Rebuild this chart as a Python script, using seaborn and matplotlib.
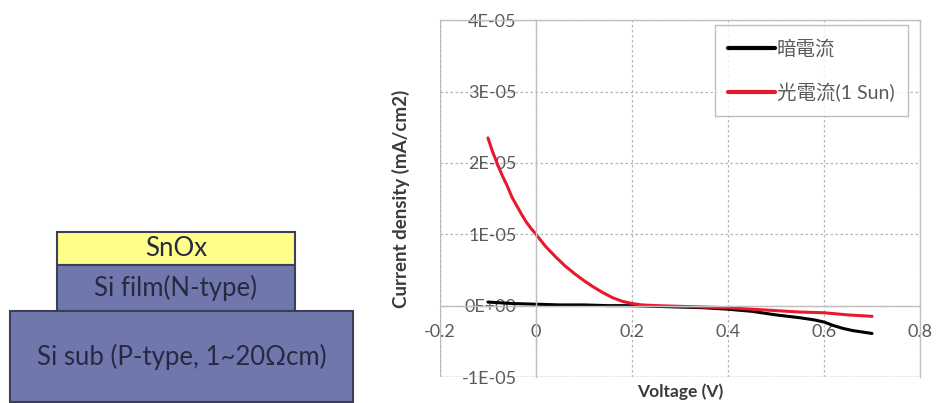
import seaborn as sns
import matplotlib.pyplot as plt
import matplotlib.patches as mpatches
import pandas as pd

# --- DATA ---
series_names = ['暗電流', '光電流(1 Sun)']

# dark current
dark_v = [-0.10, -0.05, 0.00, 0.05, 0.10, 0.15, 0.20, 0.25, 0.30, 0.35, 0.40,
          0.45, 0.50, 0.55, 0.58, 0.60, 0.62, 0.64, 0.66, 0.68, 0.70]
dark_j = [0.05e-5, 0.03e-5, 0.02e-5, 0.01e-5, 0.01e-5, 0.0, 0.0, -0.01e-5, -0.02e-5,
          -0.03e-5, -0.05e-5, -0.08e-5, -0.13e-5, -0.17e-5, -0.20e-5, -0.23e-5,
          -0.28e-5, -0.32e-5, -0.35e-5, -0.37e-5, -0.39e-5]

# photo current (1 sun)
light_v = [-0.10, -0.09, -0.08, -0.07, -0.06, -0.05, -0.04, -0.03, -0.02, -0.01, 0.00,
           0.02, 0.04, 0.06, 0.08, 0.10, 0.12, 0.14, 0.16, 0.18, 0.20, 0.22, 0.25,
           0.30, 0.35, 0.40, 0.45, 0.50, 0.55, 0.60, 0.65, 0.70]
light_j = [2.35e-5, 2.15e-5, 1.98e-5, 1.82e-5, 1.68e-5, 1.52e-5, 1.40e-5, 1.28e-5,
           1.17e-5, 1.08e-5, 1.00e-5, 0.83e-5, 0.69e-5, 0.56e-5, 0.45e-5, 0.35e-5,
           0.26e-5, 0.18e-5, 0.11e-5, 0.06e-5, 0.03e-5, 0.01e-5, 0.0, -0.01e-5,
           -0.02e-5, -0.03e-5, -0.05e-5, -0.07e-5, -0.09e-5, -0.10e-5, -0.13e-5, -0.15e-5]

x_ticks = [-0.2, 0, 0.2, 0.4, 0.6, 0.8]
x_ticklabels = ['-0.2', '0', '0.2', '0.4', '0.6', '0.8']
y_ticks = [-1e-5, 0, 1e-5, 2e-5, 3e-5, 4e-5]
y_ticklabels = ['-1E-05', '0E+00', '1E-05', '2E-05', '3E-05', '4E-05']

# device stack (left drawing): label, fill colour
layers = ['SnOx', 'Si film(N-type)', 'Si sub (P-type, 1~20Ωcm)']
layer_colors = ['#ffff8a', '#6f77ad', '#6f77ad']

df = pd.concat([
    pd.DataFrame({'V': dark_v, 'J': dark_j, 'series': series_names[0]}),
    pd.DataFrame({'V': light_v, 'J': light_j, 'series': series_names[1]}),
], ignore_index=True)

sns.set_style('white')
plt.rcParams['font.family'] = ['Lato', 'Noto Sans CJK TC', 'DejaVu Sans']

fig = plt.figure(figsize=(9.36, 4.03), dpi=100)

# --- LEFT: layer drawing, in pixel coordinates ---
dax = fig.add_axes([0, 0, 0.4, 1])
dax.set_xlim(0, 374.4)
dax.set_ylim(403, 0)
dax.axis('off')
boxes = [(57, 232, 238, 33), (57, 265, 238, 46), (10, 311, 343, 91)]
for (x, y, w, h), name, col in zip(boxes, layers, layer_colors):
    dax.add_patch(mpatches.Rectangle((x, y), w, h, facecolor=col,
                                     edgecolor='#3c4057', linewidth=1.5))
    dax.text(x + w / 2, y + h / 2, name, ha='center', va='center',
             fontsize=18.5, color='#262a40')

# --- RIGHT: J-V curves ---
ax = fig.add_axes([0.470, 0.0645, 0.513, 0.8855])
sns.lineplot(data=df, x='V', y='J', hue='series', palette=['black', '#e8192c'],
             sort=False, estimator=None, linewidth=2.2, ax=ax)

ax.set_xlim(-0.2, 0.8)
ax.set_ylim(-1e-5, 4e-5)
ax.set_xticks(x_ticks, x_ticklabels)
ax.set_yticks(y_ticks, y_ticklabels)
ax.grid(True, color='#b5b5b5', linestyle=(0, (2, 2)), linewidth=0.9)

# axes cross at zero, Excel style
ax.spines['left'].set_position(('data', 0))
ax.spines['bottom'].set_position(('data', 0))
for s in ax.spines.values():
    s.set_color('#c0c0c0')
    s.set_linewidth(1.0)
ax.axhline(-1e-5, color='#c0c0c0', linewidth=1.0, zorder=0)
ax.axvline(-0.2, color='#c0c0c0', linewidth=1.0, zorder=0)

ax.tick_params(axis='x', length=0, pad=13, labelsize=13, labelcolor='#5a5a5a')
ax.tick_params(axis='y', length=0, pad=14, labelsize=13, labelcolor='#5a5a5a')

ax.set_xlabel('Voltage (V)', fontsize=12.5, fontweight='bold', color='#3a3a3a')
ax.set_ylabel('Current density (mA/cm2)', fontsize=13.5, fontweight='bold', color='#3a3a3a')
ax.xaxis.set_label_coords(0.5, -0.018)
ax.yaxis.set_label_coords(-0.0625, 0.5)

leg = ax.legend(loc='upper right', bbox_to_anchor=(0.975, 0.986), title=None,
                frameon=True, fancybox=False, edgecolor='#b0b0b0', fontsize=14,
                handlelength=2.4, handletextpad=0.1, labelspacing=1.3,
                borderpad=0.7, borderaxespad=0)
leg.get_frame().set_linewidth(1.0)
for t in leg.get_texts():
    t.set_color('#5a5a5a')
for h in leg.get_lines():
    h.set_linewidth(3)

fig.savefig('out.png', dpi=100)
